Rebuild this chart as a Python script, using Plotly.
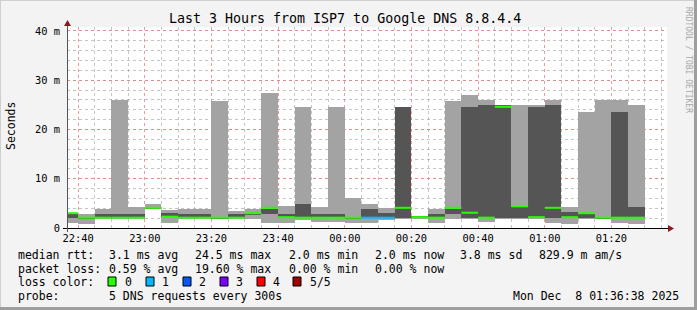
import plotly.graph_objects as go
from datetime import datetime, timedelta

# ---------------- data ----------------
first_interval = datetime(2025, 12, 7, 22, 35)
step_min = 5
ping_min = [1.1, 0.9, 1.8, 1.8, 1.8, 3.9, 1.1, 1.8, 1.8, 1.8, 1.8, 1.9, 1.1, 0.95, 1.6, 1.15, 1.15, 1.1,
            0.95, 1.7, 1.8, 2.0, 1.1, 1.9, 1.9, 1.15, 1.9, 1.9, 1.9, 1.0, 0.8, 1.9, 1.8, 1.1, 0.9]
ping_p2 = [2.0, 1.95, 2.0, 2.0, 2.0, 3.95, 2.2, 2.0, 2.0, 1.95, 2.0, 2.8, 2.9, 2.1, 2.0, 2.0, 2.0, 1.95,
           2.0, 2.0, 2.0, 2.05, 2.0, 2.9, 2.0, 2.0, 2.0, 2.0, 2.0, 2.0, 2.0, 2.0, 1.9, 2.0, 2.0]
median = [2.9, 2.0, 2.0, 2.0, 2.0, 4.0, 2.2, 2.0, 2.0, 2.0, 2.0, 2.9, 4.0, 2.1, 2.0, 2.0, 2.0, 2.0,
          2.0, 2.0, 4.0, 2.1, 2.0, 4.0, 3.0, 2.0, 24.5, 4.3, 2.1, 4.0, 2.1, 2.9, 2.0, 2.0, 2.0]
ping_p4 = [2.9, 2.0, 2.9, 2.9, 2.9, 4.0, 3.0, 2.9, 2.9, 2.0, 2.9, 2.9, 3.9, 2.9, 4.9, 2.9, 2.9, 2.0,
           3.9, 3.1, 24.5, 2.35, 2.9, 3.9, 24.6, 25.0, 25.0, 4.2, 24.6, 25.0, 3.3, 2.8, 2.0, 23.6, 4.3]
ping_max = [3.1, 2.9, 3.9, 26.0, 4.3, 4.9, 3.6, 3.9, 3.9, 25.8, 3.4, 3.9, 27.4, 4.5, 24.5, 4.3, 24.5, 6.0,
            4.9, 4.0, 24.6, 2.4, 3.9, 25.7, 27.0, 26.0, 25.0, 25.0, 25.0, 26.0, 4.3, 23.6, 26.0, 26.0, 25.0]
loss = [0] * 18 + [1, 1] + [0] * 15

loss_labels = ["0", "1", "2", "3", "4", "5/5"]
loss_colors = ["#26ff00", "#00b8ff", "#0059ff", "#7e00ff", "#ff0000", "#a00000"]

y_tickvals = [0, 10, 20, 30, 40]
y_ticktext = ["0", "10 m", "20 m", "30 m", "40 m"]

title = "Last 3 Hours from ISP7 to Google DNS 8.8.4.4"
stats_rtt = ["median rtt:", "3.1 ms avg", "24.5 ms max", "2.0 ms min", "2.0 ms now", "3.8 ms sd", "829.9 m am/s"]
stats_loss = ["packet loss:", "0.59 % avg", "19.60 % max", "0.00 % min", "0.00 % now"]
probe_text = "5 DNS requests every 300s"
date_text = "Mon Dec\u00a0 8 01:36:38 2025"

# ---------------- figure ----------------
W, H = 697, 310
L, R, T, B = 67, 667, 27, 228


def PX(px):
    return (px - L) / (R - L)


def PY(py):
    return (B - py) / (B - T)


starts = [first_interval + timedelta(minutes=step_min * i) for i in range(len(median))]
centers = [s + timedelta(minutes=step_min / 2) for s in starts]
width_ms = step_min * 60 * 1000

fig = go.Figure()
fig.add_trace(go.Bar(x=centers, y=[h - l for h, l in zip(ping_max, ping_min)], base=ping_min,
                     width=width_ms, marker=dict(color="#a3a3a3", line=dict(width=0)),
                     hoverinfo="skip", showlegend=False))
fig.add_trace(go.Bar(x=centers, y=[max(h - l, 0) for h, l in zip(ping_p4, ping_p2)], base=ping_p2,
                     width=width_ms, marker=dict(color="#555555", line=dict(width=0)),
                     hoverinfo="skip", showlegend=False))

for lv, col in enumerate(loss_colors):
    xs, ys = [], []
    for s, m, lo in zip(starts, median, loss):
        if lo == lv:
            xs += [s, s + timedelta(minutes=step_min), None]
            ys += [m + 0.1, m + 0.1, None]
    if xs:
        fig.add_trace(go.Scatter(x=xs, y=ys, mode="lines", line=dict(color=col, width=2),
                                 hoverinfo="skip", showlegend=False))

mono = "DejaVu Sans Mono"
fig.update_layout(
    width=W, height=H,
    margin=dict(l=L, r=W - R, t=T, b=H - B, pad=0),
    paper_bgcolor="#f3f3f3", plot_bgcolor="#ffffff",
    barmode="overlay", bargap=0,
    showlegend=False,
    font=dict(family=mono, size=10.4, color="#000000"),
    xaxis=dict(
        type="date",
        range=["2025-12-07 22:36:40", "2025-12-08 01:36:40"],
        tick0="2025-12-07 22:40:00", dtick=20 * 60 * 1000, tickformat="%H:%M",
        showgrid=True, gridcolor="rgba(230,120,120,0.75)", griddash="dot", gridwidth=1,
        minor=dict(dtick=5 * 60 * 1000, showgrid=True, gridcolor="rgba(150,150,150,0.55)",
                   griddash="dot", gridwidth=1),
        showline=False, zeroline=False, ticks="", ticklabelstandoff=3,
        tickfont=dict(family=mono, size=10.4),
    ),
    yaxis=dict(
        range=[0, 40.8], tickvals=y_tickvals, ticktext=y_ticktext,
        showgrid=True, gridcolor="rgba(230,120,120,0.75)", griddash="dot", gridwidth=1,
        minor=dict(dtick=2, showgrid=True, gridcolor="rgba(150,150,150,0.55)",
                   griddash="dot", gridwidth=1),
        showline=False, zeroline=False, ticks="", ticklabelstandoff=6,
        tickfont=dict(family=mono, size=10.4),
    ),
)

shapes = []
# outer border
shapes.append(dict(type="line", xref="paper", yref="paper", x0=PX(0), x1=PX(W), y0=PY(0.5), y1=PY(0.5),
                   line=dict(color="#cfcfcf", width=1)))
shapes.append(dict(type="line", xref="paper", yref="paper", x0=PX(0.5), x1=PX(0.5), y0=PY(0), y1=PY(H),
                   line=dict(color="#cfcfcf", width=1)))
shapes.append(dict(type="line", xref="paper", yref="paper", x0=PX(0), x1=PX(W), y0=PY(H - 1.5), y1=PY(H - 1.5),
                   line=dict(color="#9e9e9e", width=3)))
shapes.append(dict(type="line", xref="paper", yref="paper", x0=PX(W - 1.5), x1=PX(W - 1.5), y0=PY(0), y1=PY(H),
                   line=dict(color="#9e9e9e", width=3)))
# axes
shapes.append(dict(type="line", xref="paper", yref="paper", x0=PX(63), x1=PX(669), y0=PY(228.5), y1=PY(228.5),
                   line=dict(color="#000000", width=1)))
shapes.append(dict(type="line", xref="paper", yref="paper", x0=PX(67.5), x1=PX(67.5), y0=PY(232), y1=PY(24),
                   line=dict(color="#555555", width=1)))
# arrows
shapes.append(dict(type="path", xref="paper", yref="paper",
                   path=f"M {PX(668)} {PY(225)} L {PX(674)} {PY(228.5)} L {PX(668)} {PY(232)} Z",
                   fillcolor="#8b1a1a", line=dict(width=0)))
shapes.append(dict(type="path", xref="paper", yref="paper",
                   path=f"M {PX(64)} {PY(26)} L {PX(67.5)} {PY(20)} L {PX(71)} {PY(26)} Z",
                   fillcolor="#8b1a1a", line=dict(width=0)))
# loss colour boxes
box_x = [108, 146, 183, 220, 257, 293]
lab_x = [123, 160, 197, 234, 271, 308]
for bx, col in zip(box_x, loss_colors):
    shapes.append(dict(type="rect", xref="paper", yref="paper", x0=PX(bx), x1=PX(bx + 8),
                       y0=PY(286), y1=PY(277), fillcolor=col, line=dict(color="#000000", width=1)))
fig.update_layout(shapes=shapes)

ann = []


def text(px, py, s, size=11.5, anchor="left", color="#000000", angle=0):
    ann.append(dict(x=PX(px), y=PY(py), xref="paper", yref="paper", text=s, showarrow=False,
                    xanchor=anchor, yanchor="middle", textangle=angle,
                    font=dict(family=mono, size=size, color=color)))


text(345, 19, title, size=13.3, anchor="center")
text(11, 126, "Seconds", size=11.5, anchor="center", angle=-90)
text(689, 60, "RRDTOOL / TOBI OETIKER", size=8, anchor="center", color="#a8a8a8", angle=90)

row1_x = [16, 107, 193, 287, 373, 458, 537]
for x, s in zip(row1_x, stats_rtt):
    text(x, 255, s)
for x, s in zip(row1_x, stats_loss):
    text(x, 268.5, s)
text(16, 282, "loss color:")
for x, s in zip(lab_x, loss_labels):
    text(x, 282, s)
text(16, 296, "probe:")
text(107, 296, probe_text)
text(681, 296, date_text, anchor="right")

fig.update_layout(annotations=ann)
fig.write_html("out.html")
